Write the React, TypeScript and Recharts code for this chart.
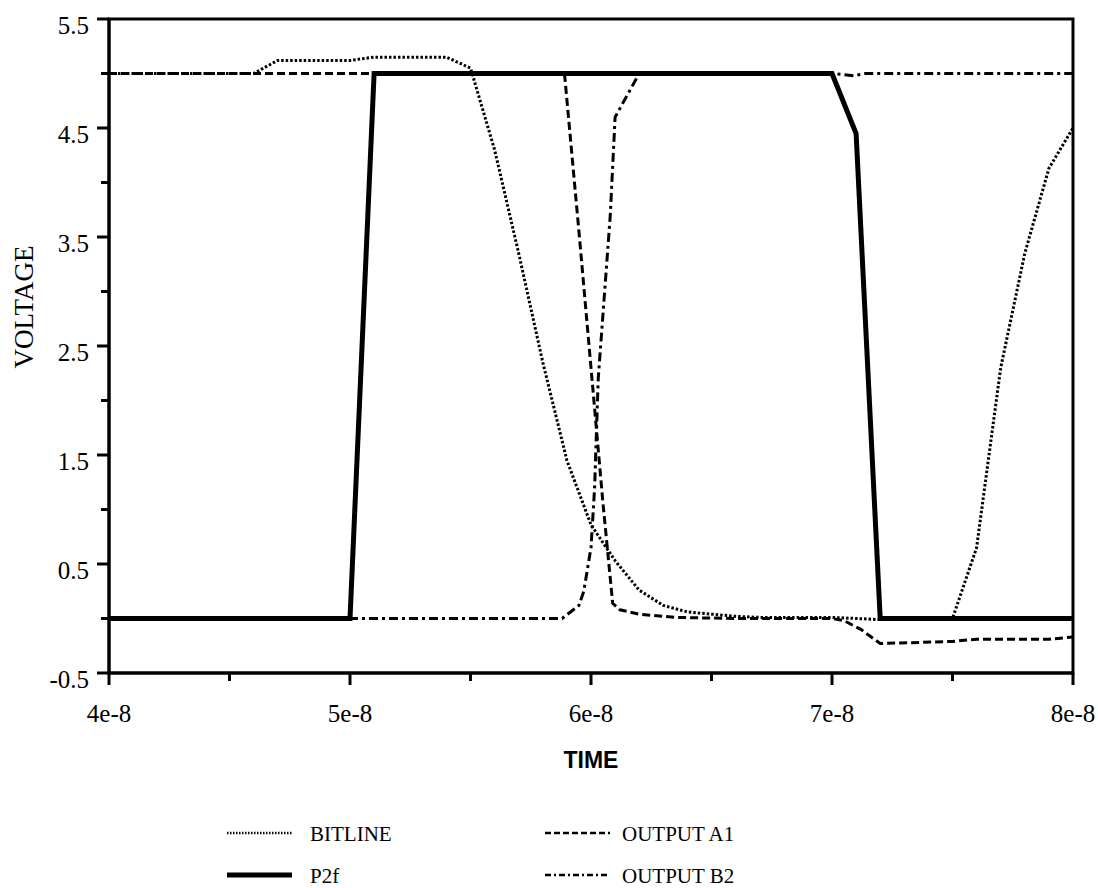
import React from 'react';
import { LineChart, Line, XAxis, YAxis, ReferenceArea, Legend, Label } from 'recharts';

// time in units of 1e-9 s, voltage in V
const seriesNames = ['BITLINE', 'P2f', 'OUTPUT A1', 'OUTPUT B2'];

const bitlineTime = [40, 46, 47, 50, 51, 54, 55, 56, 57, 58, 59, 60, 61, 62, 63, 64, 65, 66, 67, 70, 72, 74, 75, 76, 77, 78, 79, 80];
const bitlineVolt = [5.0, 5.0, 5.12, 5.12, 5.15, 5.15, 5.05, 4.3, 3.35, 2.35, 1.45, 0.86, 0.53, 0.26, 0.12, 0.06, 0.04, 0.02, 0.01, 0.01, -0.01, -0.01, 0, 0.65, 2.3, 3.35, 4.13, 4.5];

const p2fTime = [40, 50, 51, 70, 71, 72, 80];
const p2fVolt = [0, 0, 5.0, 5.0, 4.45, 0, 0];

const outA1Time = [40, 58.9, 59.5, 60, 60.5, 60.9, 61.2, 62, 63.5, 66, 70, 70.5, 71.2, 72, 75, 76, 79, 80];
const outA1Volt = [5.0, 5.0, 3.55, 2.3, 1.05, 0.14, 0.08, 0.04, 0.01, 0, 0, -0.02, -0.1, -0.23, -0.21, -0.19, -0.19, -0.17];

const outB2Time = [40, 58.8, 59.5, 59.7, 60, 60.15, 60.3, 60.8, 61, 62, 70, 70.9, 71.4, 80];
const outB2Volt = [0, 0, 0.12, 0.25, 0.65, 1.2, 2.2, 3.7, 4.6, 5.0, 5.0, 4.98, 5.0, 5.0];

const xTicks = [40, 45, 50, 55, 60, 65, 70, 75, 80];
const xMajor = [40, 50, 60, 70, 80];
const xTickLabels = ['4e-8', '5e-8', '6e-8', '7e-8', '8e-8'];

const yTicks = [-0.5, 0, 0.5, 1, 1.5, 2, 2.5, 3, 3.5, 4, 4.5, 5, 5.5];
const yMajor = [-0.5, 0.5, 1.5, 2.5, 3.5, 4.5, 5.5];
const yTickLabels = ['-0.5', '0.5', '1.5', '2.5', '3.5', '4.5', '5.5'];

const toPoints = (ts: number[], vs: number[]) => ts.map((t, i) => ({ t, v: vs[i] }));

const bitlineData = toPoints(bitlineTime, bitlineVolt);
const p2fData = toPoints(p2fTime, p2fVolt);
const outA1Data = toPoints(outA1Time, outA1Volt);
const outB2Data = toPoints(outB2Time, outB2Volt);

const SERIF = '"Liberation Serif", "Times New Roman", serif';
const SANS = '"Liberation Sans", Arial, sans-serif';

const XTick = (props: any) => {
    const { x, y, payload } = props;
    const idx = xMajor.indexOf(payload.value);
    return (
        <g>
            <line x1={x} x2={x} y1={y} y2={y + (idx >= 0 ? 12 : 8)} stroke="#000" strokeWidth={3} />
            {idx >= 0 && (
                <text x={x} y={y + 49} textAnchor="middle" fontFamily={SERIF} fontSize={25} fill="#000">
                    {xTickLabels[idx]}
                </text>
            )}
        </g>
    );
};

const YTick = (props: any) => {
    const { x, y, payload } = props;
    const idx = yMajor.indexOf(payload.value);
    return (
        <g>
            <line x1={x - (idx >= 0 ? 12 : 8)} x2={x} y1={y} y2={y} stroke="#000" strokeWidth={3} />
            {idx >= 0 && (
                <text x={x - 20} y={y + 15} textAnchor="end" fontFamily={SERIF} fontSize={25} fill="#000">
                    {yTickLabels[idx]}
                </text>
            )}
        </g>
    );
};

const legendStyles = [
    { dash: '1.5 1.5', width: 2.5 },
    { dash: undefined, width: 5 },
    { dash: '6 3', width: 2.5 },
    { dash: '6 3 2 3', width: 2.5 },
];

const LegendContent = () => {
    const cols = [{ lx: 227, tx: 310 }, { lx: 545, tx: 622 }];
    return (
        <svg width={1098} height={90}>
            {seriesNames.map((name, i) => {
                const col = cols[i < 2 ? 0 : 1];
                const rowY = i % 2 === 0 ? 33 : 75;
                const st = legendStyles[i];
                return (
                    <g key={name}>
                        <line x1={col.lx} x2={col.lx + 65} y1={rowY} y2={rowY} stroke="#000"
                            strokeWidth={st.width} strokeDasharray={st.dash} />
                        <text x={col.tx} y={rowY + 8} fontFamily={SERIF} fontSize={21} fill="#000">{name}</text>
                    </g>
                );
            })}
        </svg>
    );
};

const App: React.FC = () => {
    return (
        <div style={{ position: 'absolute', left: 0, top: 0, width: 1098, height: 888, background: '#fff' }}>
            <LineChart width={1098} height={888} margin={{ top: 19, right: 25, bottom: 155, left: 0 }}>
                <XAxis
                    dataKey="t"
                    type="number"
                    domain={[40, 80]}
                    ticks={xTicks}
                    interval={0}
                    allowDataOverflow
                    height={60}
                    tickSize={0}
                    tickMargin={0}
                    tickLine={false}
                    axisLine={{ stroke: '#000', strokeWidth: 3 }}
                    tick={<XTick />}
                >
                    <Label
                        content={(p: any) => (
                            <text x={p.viewBox.x + p.viewBox.width / 2} y={p.viewBox.y + 95} textAnchor="middle"
                                fontFamily={SANS} fontWeight="bold" fontSize={23} fill="#000">
                                TIME
                            </text>
                        )}
                    />
                </XAxis>
                <YAxis
                    type="number"
                    domain={[-0.5, 5.5]}
                    ticks={yTicks}
                    interval={0}
                    allowDataOverflow
                    width={109}
                    tickSize={0}
                    tickMargin={0}
                    tickLine={false}
                    axisLine={{ stroke: '#000', strokeWidth: 3 }}
                    tick={<YTick />}
                >
                    <Label
                        content={(p: any) => {
                            const cx = p.viewBox.x + 24;
                            const cy = p.viewBox.y + p.viewBox.height / 2 - 39;
                            return (
                                <text x={cx} y={cy} transform={`rotate(-90 ${cx} ${cy})`} textAnchor="middle"
                                    dominantBaseline="central" fontFamily={SERIF} fontSize={27} fill="#000">
                                    VOLTAGE
                                </text>
                            );
                        }}
                    />
                </YAxis>
                <ReferenceArea x1={40} x2={80} y1={-0.5} y2={5.5} fill="none" stroke="#000" strokeWidth={3} ifOverflow="visible" />
                <Line data={bitlineData} dataKey="v" name={seriesNames[0]} type="linear" stroke="#000" strokeWidth={3}
                    strokeDasharray="2.5 2" dot={false} isAnimationActive={false} />
                <Line data={outA1Data} dataKey="v" name={seriesNames[2]} type="linear" stroke="#000" strokeWidth={3}
                    strokeDasharray="8 4" dot={false} isAnimationActive={false} />
                <Line data={outB2Data} dataKey="v" name={seriesNames[3]} type="linear" stroke="#000" strokeWidth={3}
                    strokeDasharray="9 4 3 4" dot={false} isAnimationActive={false} />
                <Line data={p2fData} dataKey="v" name={seriesNames[1]} type="linear" stroke="#000" strokeWidth={5}
                    dot={false} isAnimationActive={false} />
                <Legend
                    layout="horizontal"
                    verticalAlign="middle"
                    align="center"
                    content={<LegendContent />}
                    wrapperStyle={{ position: 'absolute', left: 0, top: 800, width: 1098, height: 90 }}
                />
            </LineChart>
        </div>
    );
};

export default App;
